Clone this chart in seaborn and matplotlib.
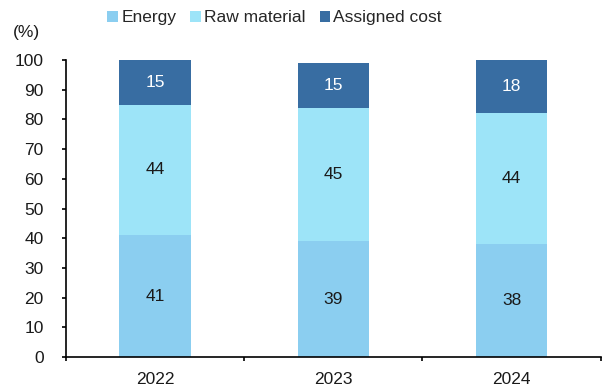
import matplotlib
matplotlib.use("Agg")
import matplotlib.pyplot as plt
import seaborn as sns
import pandas as pd
import numpy as np
from matplotlib.patches import Patch

years = ["2022", "2023", "2024"]
energy = [41, 39, 38]
raw_material = [44, 45, 44]
assigned_cost = [15, 15, 18]

series_names = ["Energy", "Raw material", "Assigned cost"]
colors = ["#8BCEF0", "#9DE4F8", "#386DA2"]
text_colors = ["#1a1a1a", "#1a1a1a", "white"]

FS = 12.5

sns.set_theme(style="white")
plt.rcParams["font.family"] = ["Liberation Sans", "DejaVu Sans"]

fig = plt.figure(figsize=(6.05, 3.92), dpi=100)
ax = fig.add_axes([0.109, 0.089, 0.884, 0.758])

layers = [energy, raw_material, assigned_cost]
cum = np.cumsum(np.array(layers), axis=0)

# draw cumulative totals from the top layer down so each band shows its own share
for i in reversed(range(len(layers))):
    df = pd.DataFrame({"year": years, "value": cum[i]})
    sns.barplot(data=df, x="year", y="value", color=colors[i], width=0.4,
                saturation=1, ax=ax, edgecolor="none", linewidth=0)

for i, vals in enumerate(layers):
    bottoms = cum[i] - np.array(vals)
    for j, v in enumerate(vals):
        ax.text(j, bottoms[j] + v / 2, str(v), ha="center", va="center",
                fontsize=FS, color=text_colors[i])

ax.set_ylim(0, 100)
ax.set_xlim(-0.5, 2.5)
ax.set_yticks(range(0, 101, 10))
ax.set_xticks([0, 1, 2])
ax.set_xticklabels(years)
ax.set_xlabel("")
ax.set_ylabel("")

# boundary ticks between categories on the x axis
ax.set_xticks([-0.5, 0.5, 1.5, 2.5], minor=True)
ax.tick_params(axis="x", which="major", length=0, labelsize=FS, pad=11, colors="#1a1a1a")
ax.tick_params(axis="x", which="minor", length=3, width=1.2, direction="out", color="black", bottom=True)
ax.tick_params(axis="y", length=3, width=1.2, direction="out", color="black", left=True,
               labelsize=FS, pad=13, labelcolor="#1a1a1a")

for side in ["top", "right"]:
    ax.spines[side].set_visible(False)
for side in ["left", "bottom"]:
    ax.spines[side].set_color("black")
    ax.spines[side].set_linewidth(1.2)

fig.text(0.022, 0.918, "(%)", fontsize=FS, color="#1a1a1a", va="center")

handles = [Patch(facecolor=c, edgecolor="none") for c in colors]
fig.legend(handles, series_names, loc="center", bbox_to_anchor=(0.454, 0.955), ncol=3,
           frameon=False, fontsize=FS, handlelength=0.6, handleheight=0.6,
           handletextpad=0.2, columnspacing=0.8)

fig.savefig("out.png", dpi=100)
